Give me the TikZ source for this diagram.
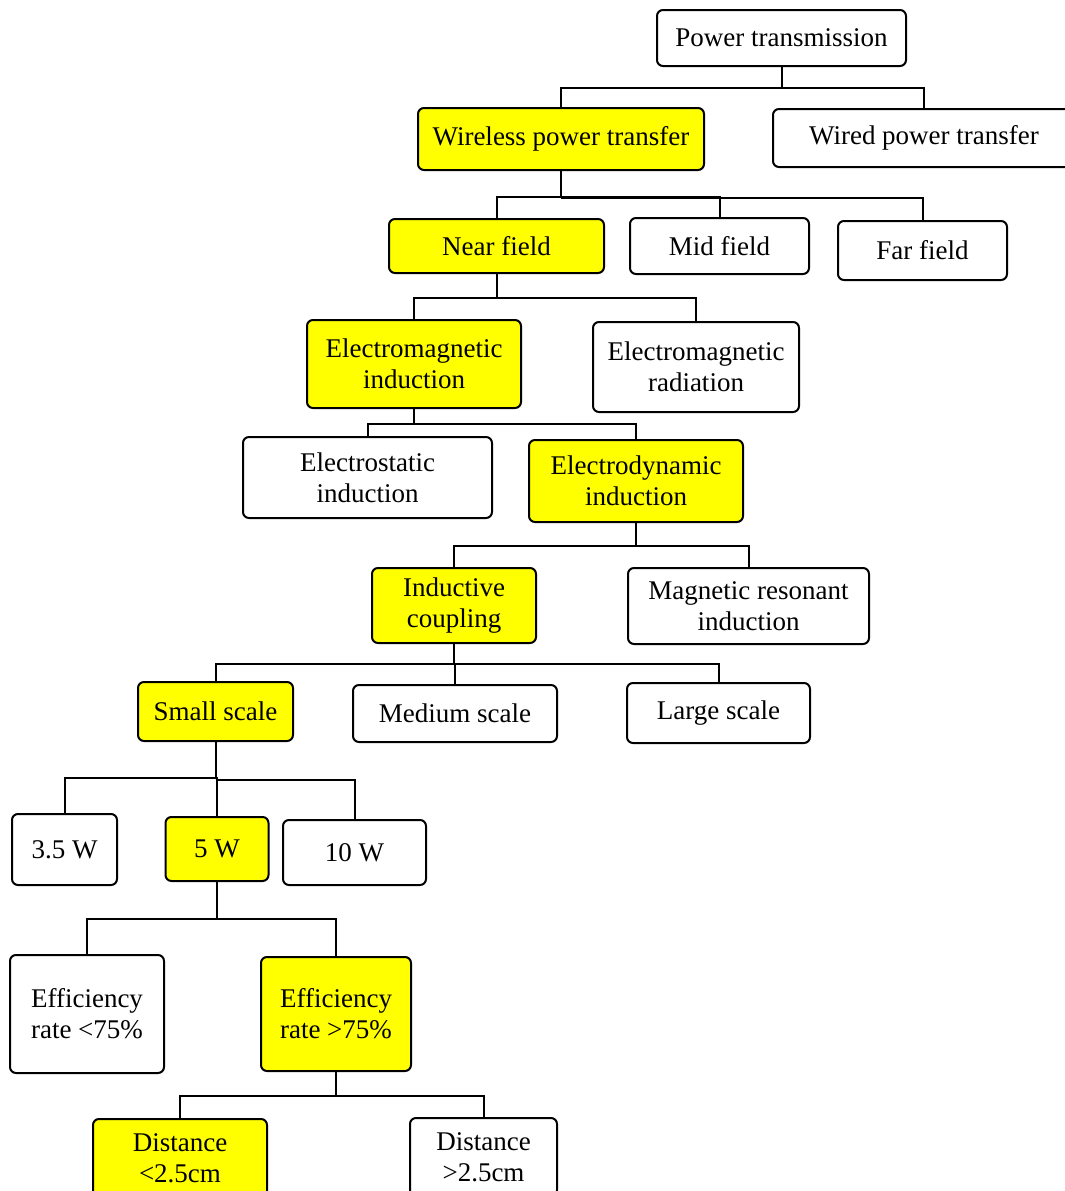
\documentclass[tikz,border=0pt]{standalone}
\usepackage{fontspec}
\setmainfont{Liberation Serif}
\definecolor{hl}{RGB}{255,255,0}
\tikzset{
  bx/.style={draw=black, line width=2pt, rounded corners=6pt, inner sep=0pt, align=center, font=\fontsize{27}{31}\selectfont, fill=white},
  yb/.style={bx, fill=hl},
  ln/.style={draw=black, line width=2pt}
}
\begin{document}
\begin{tikzpicture}[x=1pt,y=-1pt]
\useasboundingbox (0,0) rectangle (1065,1191);
\fill[white] (0,0) rectangle (1065,1191);
% nodes
\node[bx, minimum width=249pt, minimum height=56pt] (pt) at (781.5,38) {Power transmission};
\node[yb, minimum width=286pt, minimum height=62pt] (wl) at (561,139) {Wireless power transfer};
\node[bx, minimum width=302pt, minimum height=58pt] (wd) at (924,138) {Wired power transfer};
\node[yb, minimum width=215pt, minimum height=54pt] (nf) at (496.5,246) {Near field};
\node[bx, minimum width=179pt, minimum height=56pt] (mf) at (719.5,246) {Mid field};
\node[bx, minimum width=169pt, minimum height=59pt] (ff) at (922.5,250.5) {Far field};
\node[yb, minimum width=214pt, minimum height=88pt] (emi) at (414,364) {Electromagnetic\\induction};
\node[bx, minimum width=206pt, minimum height=90pt] (emr) at (696,367) {Electromagnetic\\radiation};
\node[bx, minimum width=249pt, minimum height=81pt] (esi) at (367.5,477.5) {Electrostatic\\induction};
\node[yb, minimum width=214pt, minimum height=82pt] (edi) at (636,481) {Electrodynamic\\induction};
\node[yb, minimum width=164pt, minimum height=75pt] (ic) at (454,605.5) {Inductive\\coupling};
\node[bx, minimum width=241pt, minimum height=76pt] (mri) at (748.5,606) {Magnetic resonant\\induction};
\node[yb, minimum width=155pt, minimum height=59pt] (ss) at (215.5,711.5) {Small scale};
\node[bx, minimum width=204pt, minimum height=57pt] (ms) at (455,713.5) {Medium scale};
\node[bx, minimum width=183pt, minimum height=60pt] (ls) at (718.5,713) {Large scale};
\node[bx, minimum width=105pt, minimum height=71pt] (w35) at (64.5,849.5) {3.5 W};
\node[yb, minimum width=103pt, minimum height=64pt] (w5) at (217,849) {5 W};
\node[bx, minimum width=143pt, minimum height=65pt] (w10) at (354.5,852.5) {10 W};
\node[bx, minimum width=154pt, minimum height=118pt] (el) at (87,1014) {Efficiency\\rate <75\%};
\node[yb, minimum width=150pt, minimum height=114pt] (eh) at (336,1014) {Efficiency\\rate >75\%};
\node[yb, minimum width=174pt, minimum height=78pt] (dl) at (180,1158) {Distance\\<2.5cm};
\node[bx, minimum width=147pt, minimum height=78pt] (dh) at (483.5,1157) {Distance\\>2.5cm};
% connectors
\draw[ln] (pt.south) -- ++(0,21) -| (wl.north);
\draw[ln] (pt.south) ++(0,21) -| (wd.north);
\draw[ln] (wl.south) -- ++(0,26) -| (nf.north);
\draw[ln] (wl.south) ++(0,26) -| (mf.north);
\draw[ln] (wl.south) ++(0,27) -| (ff.north);
\draw[ln] (nf.south) -- ++(0,24) -| (emi.north);
\draw[ln] (nf.south) ++(0,24) -| (emr.north);
\draw[ln] (emi.south) -- ++(0,15) -| (esi.north);
\draw[ln] (emi.south) ++(0,15) -| (edi.north);
\draw[ln] (edi.south) -- ++(0,23) -| (ic.north);
\draw[ln] (edi.south) ++(0,23) -| (mri.north);
\draw[ln] (ic.south) -- ++(0,20) -| (ss.north);
\draw[ln] (ic.south) ++(0,20) -| (ms.north);
\draw[ln] (ic.south) ++(0,20) -| (ls.north);
\draw[ln] (ss.south) -- ++(0,36) -| (w35.north);
\draw[ln] (ss.south) ++(0,36) -| (w5.north);
\draw[ln] (ss.south) ++(0,38) -| (w10.north);
\draw[ln] (w5.south) -- ++(0,37) -| (el.north);
\draw[ln] (w5.south) ++(0,37) -| (eh.north);
\draw[ln] (eh.south) -- ++(0,24) -| (dl.north);
\draw[ln] (eh.south) ++(0,24) -| (dh.north);
\end{tikzpicture}
\end{document}
